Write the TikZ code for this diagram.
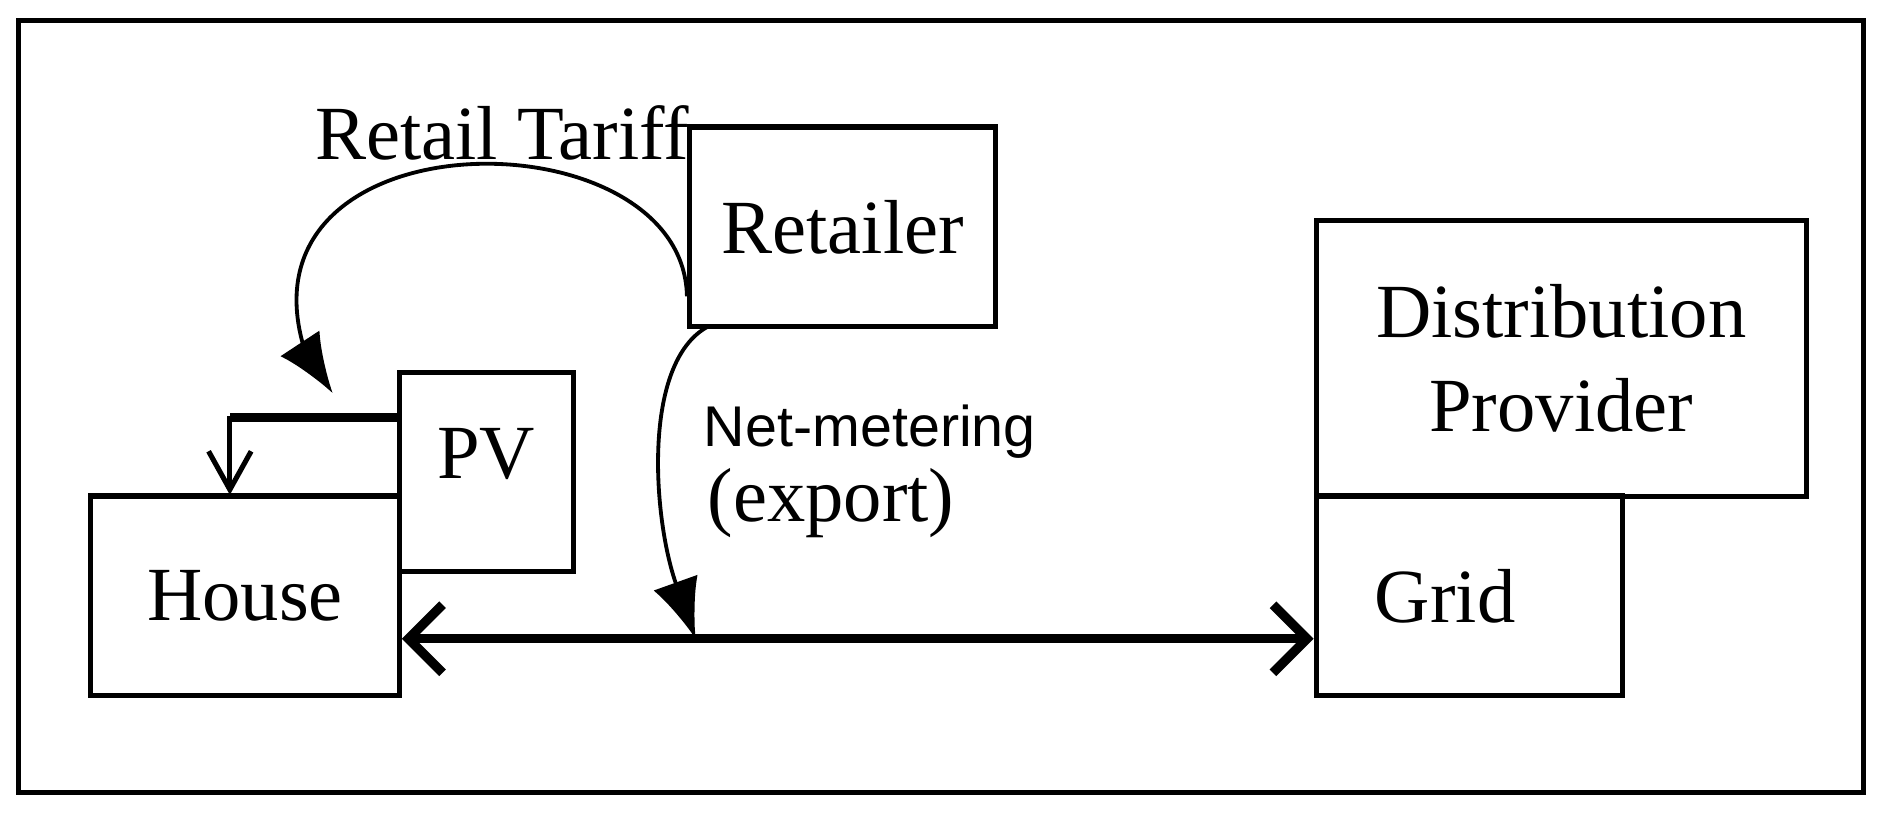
\documentclass[tikz,border=0pt]{standalone}
\usepackage{fontspec}
\setmainfont{Liberation Serif}
\newfontfamily\sansf{Liberation Sans}
\usetikzlibrary{arrows.meta}
\begin{document}
\begin{tikzpicture}[x=0.01cm,y=-0.01cm,
  box/.style={draw,line width=1.2pt,inner sep=0},
  lbl/.style={font=\fontsize{18}{22}\selectfont}]
\useasboundingbox (0,0) rectangle (1568,678);
\draw[line width=1.2pt] (15,17) rectangle (1540,655);
\node[box,minimum width=2.53cm,minimum height=1.65cm,lbl] (ret) at (696.5,187.5) {Retailer};
\node[box,minimum width=4.05cm,minimum height=2.28cm,lbl,align=center] (dp) at (1290.5,296) {Distribution\\Provider};
\node[box,minimum width=2.53cm,minimum height=1.65cm,lbl] (grid) at (1214.5,492.5) {\hspace*{-0.4cm}Grid};
\node[box,minimum width=2.55cm,minimum height=1.65cm,lbl] (house) at (202.5,492.5) {House};
\node[box,minimum width=1.44cm,minimum height=1.64cm,lbl] (pv) at (402,390) {\raisebox{0.3cm}{PV}};
\node[lbl] (rt) at (415,110) {Retail Tariff};
\node[font=\sansf\fontsize{13.5}{16}\selectfont] (nm) at (719,357) {Net-metering};
\node[lbl] (ex) at (687,416) {(export)};
\coordinate (a1) at (ret.west|-0,245);
\coordinate (t1) at (275,325);
\draw[line width=0.9pt,-{Latex[length=14pt,width=11pt]}] (a1) .. controls (565,92) and (190,92) .. (252,290) -- (t1);
\coordinate (mid) at (575,528);
\draw[line width=0.9pt,-{Latex[length=14pt,width=11pt]}] (585,270) .. controls (530,300) and (540,430) .. (mid);
\draw[line width=2.2pt,{Straight Barb[length=8pt,width=16pt]}-{Straight Barb[length=8pt,width=16pt]}] (house.east|-mid) -- (grid.west|-mid);
\draw[line width=2.2pt] (pv.west|-0,345) -- (190,345);
\draw[line width=1.2pt,-{Straight Barb[length=9pt,width=10pt]}] (190,344) -- (190,409);
\end{tikzpicture}
\end{document}
